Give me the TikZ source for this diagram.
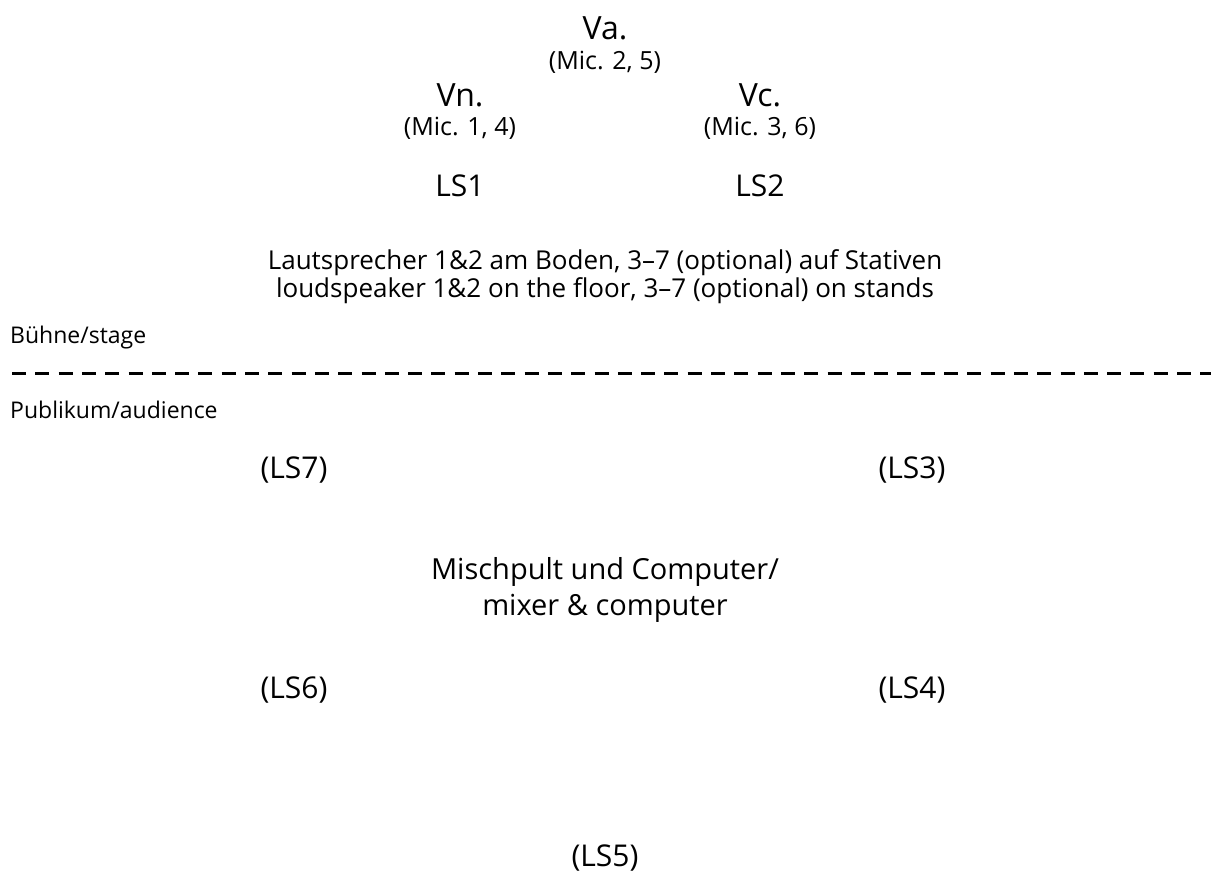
\documentclass[tikz,border=0pt]{standalone}
\usepackage{fontspec}
\setmainfont{Open Sans}
\begin{document}
\begin{tikzpicture}[x=1pt,y=-1pt,
  big/.style={font=\fontsize{32}{36}\selectfont, inner sep=0pt},
  mic/.style={font=\fontsize{25}{28}\selectfont, inner sep=0pt},
  ls/.style={font=\fontsize{30}{34}\selectfont, inner sep=0pt},
  note/.style={font=\fontsize{26}{28}\selectfont, inner sep=0pt, align=center},
  side/.style={font=\fontsize{23}{26}\selectfont, inner sep=0pt, anchor=west},
  mix/.style={font=\fontsize{29}{36}\selectfont, inner sep=0pt, align=center},
  border/.style={line width=3pt, dash pattern=on 14pt off 9.3pt}]
\useasboundingbox (0,0) rectangle (1211,875);
\node[big] (va) at (605,28) {Va.};
\node[mic] (vam) at (605,62) {(Mic. 2, 5)};
\node[big] (vn) at (460,95) {Vn.};
\node[mic] (vnm) at (460,128) {(Mic. 1, 4)};
\node[big] (vc) at (760,95) {Vc.};
\node[mic] (vcm) at (760,128) {(Mic. 3, 6)};
\node[ls] (ls1) at (460,186) {LS1};
\node[ls] (ls2) at (760,186) {LS2};
\node[note] (note) at (605,277) {Lautsprecher 1\&2 am Boden, 3–7 (optional) auf Stativen\\loudspeaker 1\&2 on the floor, 3–7 (optional) on stands};
\node[side] (stage) at (10,338) {Bühne/stage};
\coordinate (l0) at (12,373);
\coordinate (l1) at (1211,373);
\draw[border] (l0) -- (l1);
\node[side] (aud) at (10,410) {Publikum/audience};
\node[ls] (ls7) at (294,470) {(LS7)};
\node[ls] (ls3) at (912,470) {(LS3)};
\node[mix] (mixer) at (605,590) {Mischpult und Computer/\\mixer \& computer};
\node[ls] (ls6) at (294,690) {(LS6)};
\node[ls] (ls4) at (912,690) {(LS4)};
\node[ls] (ls5) at (605,858) {(LS5)};
\end{tikzpicture}
\end{document}
